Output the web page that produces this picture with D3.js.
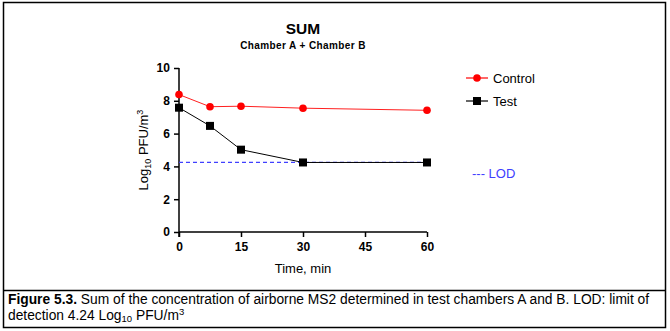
<!DOCTYPE html>
<html>
<head>
<meta charset="utf-8">
<script src="https://cdn.jsdelivr.net/npm/d3@7"></script>
<style>
  body { margin: 0; background: #fff; }
  svg { font-family: "Liberation Sans", Arial, sans-serif; }
</style>
</head>
<body>
<svg id="chart" width="670" height="331"></svg>
<script>
// data
const times = [0, 7.5, 15, 30, 60];
const controlVals = [8.38, 7.64, 7.67, 7.55, 7.42];
const testVals = [7.58, 6.47, 5.02, 4.24, 4.24];
const lod = 4.24;
const xTicks = [0, 15, 30, 45, 60];
const yTicks = [0, 2, 4, 6, 8, 10];

const svg = d3.select("#chart");

// frame round the figure and caption
svg.append("rect").attr("x", 3.5).attr("y", 2.5).attr("width", 662).attr("height", 325)
    .attr("fill", "none").attr("stroke", "#000").attr("stroke-width", 1.5);
svg.append("line").attr("x1", 3.5).attr("x2", 665.5).attr("y1", 290.5).attr("y2", 290.5)
    .attr("stroke", "#000").attr("stroke-width", 1.5);

const x = d3.scaleLinear().domain([0, 60]).range([179, 427]);
const y = d3.scaleLinear().domain([0, 10]).range([232, 68]);

// axes
const gx = svg.append("g").attr("transform", "translate(0,232)")
    .call(d3.axisBottom(x).tickValues(xTicks).tickSize(5).tickSizeOuter(0));
const gy = svg.append("g").attr("transform", "translate(179,0)")
    .call(d3.axisLeft(y).tickValues(yTicks).tickSize(5).tickSizeOuter(0));
[gx, gy].forEach(g => {
    g.select(".domain").attr("stroke-width", 1.5);
    g.selectAll(".tick line").attr("stroke-width", 1.5);
    g.selectAll(".tick text").attr("font-size", 12).attr("font-weight", "bold")
        .attr("font-family", "Liberation Sans, Arial, sans-serif").attr("fill", "#000");
});
gx.select(".domain").attr("d", "M179,0H427");
gy.select(".domain").attr("d", "M0,68V237");
gx.selectAll(".tick text").attr("dy", "0.9em");
gy.selectAll(".tick text").attr("dx", "-0.1em");

// LOD line
svg.append("line").attr("x1", x(0)).attr("x2", x(60)).attr("y1", y(lod)).attr("y2", y(lod))
    .attr("stroke", "#4040ff").attr("stroke-width", 1.3).attr("stroke-dasharray", "4,3");

const line = d3.line().x(d => x(d[0])).y(d => y(d[1]));
const controlPts = times.map((t, i) => [t, controlVals[i]]);
const testPts = times.map((t, i) => [t, testVals[i]]);

svg.append("path").datum(controlPts).attr("d", line).attr("fill", "none")
    .attr("stroke", "#ff2020").attr("stroke-width", 1);
svg.append("path").datum(testPts).attr("d", line).attr("fill", "none")
    .attr("stroke", "#000").attr("stroke-width", 1);

svg.selectAll(".ctl").data(controlPts).enter().append("circle")
    .attr("cx", d => x(d[0])).attr("cy", d => y(d[1])).attr("r", 3.8).attr("fill", "#ff0000");
svg.selectAll(".tst").data(testPts).enter().append("rect")
    .attr("x", d => x(d[0]) - 4).attr("y", d => y(d[1]) - 4)
    .attr("width", 8).attr("height", 8).attr("fill", "#000");

// legend
const legend = [
    { name: "Control", color: "#ff0000", shape: "circle", y: 78 },
    { name: "Test", color: "#000", shape: "square", y: 101 }
];
legend.forEach(l => {
    svg.append("line").attr("x1", 466).attr("x2", 488).attr("y1", l.y).attr("y2", l.y)
        .attr("stroke", l.color).attr("stroke-width", 1.2);
    if (l.shape == "circle")
        svg.append("circle").attr("cx", 477).attr("cy", l.y).attr("r", 3.8).attr("fill", l.color);
    else
        svg.append("rect").attr("x", 473).attr("y", l.y - 4).attr("width", 8).attr("height", 8).attr("fill", l.color);
    svg.append("text").attr("x", 493).attr("y", l.y + 5).attr("font-size", 13).text(l.name);
});
svg.append("text").attr("x", 472).attr("y", 178).attr("font-size", 13).attr("fill", "#4040ff")
    .text("--- LOD");

// titles
svg.append("text").attr("x", 303).attr("y", 34).attr("text-anchor", "middle")
    .attr("font-size", 15.5).attr("font-weight", "bold").text("SUM");
svg.append("text").attr("x", 303).attr("y", 48.5).attr("text-anchor", "middle")
    .attr("font-size", 10).attr("font-weight", "bold").attr("letter-spacing", 0.4)
    .text("Chamber A + Chamber B");

// axis titles
svg.append("text").attr("x", 303).attr("y", 273).attr("text-anchor", "middle")
    .attr("font-size", 13).text("Time, min");
const yl = svg.append("text").attr("transform", "translate(148,150) rotate(-90)")
    .attr("text-anchor", "middle").attr("font-size", 13);
yl.append("tspan").text("Log");
yl.append("tspan").attr("font-size", 9).attr("dy", 3).text("10");
yl.append("tspan").attr("dy", -3).text(" PFU/m");
yl.append("tspan").attr("font-size", 9).attr("dy", -5).text("3");

// caption
const c1 = svg.append("text").attr("x", 8).attr("y", 304).attr("font-size", 13.8);
c1.append("tspan").attr("font-weight", "bold").text("Figure 5.3.");
c1.append("tspan").text(" Sum of the concentration of airborne MS2 determined in test chambers A and B. LOD: limit of");
const c2 = svg.append("text").attr("x", 8).attr("y", 320).attr("font-size", 13.8);
c2.append("tspan").text("detection 4.24 Log");
c2.append("tspan").attr("font-size", 9.5).attr("dy", 2).text("10");
c2.append("tspan").attr("dy", -2).text(" PFU/m");
c2.append("tspan").attr("font-size", 9.5).attr("dy", -5).text("3");
</script>
</body>
</html>
